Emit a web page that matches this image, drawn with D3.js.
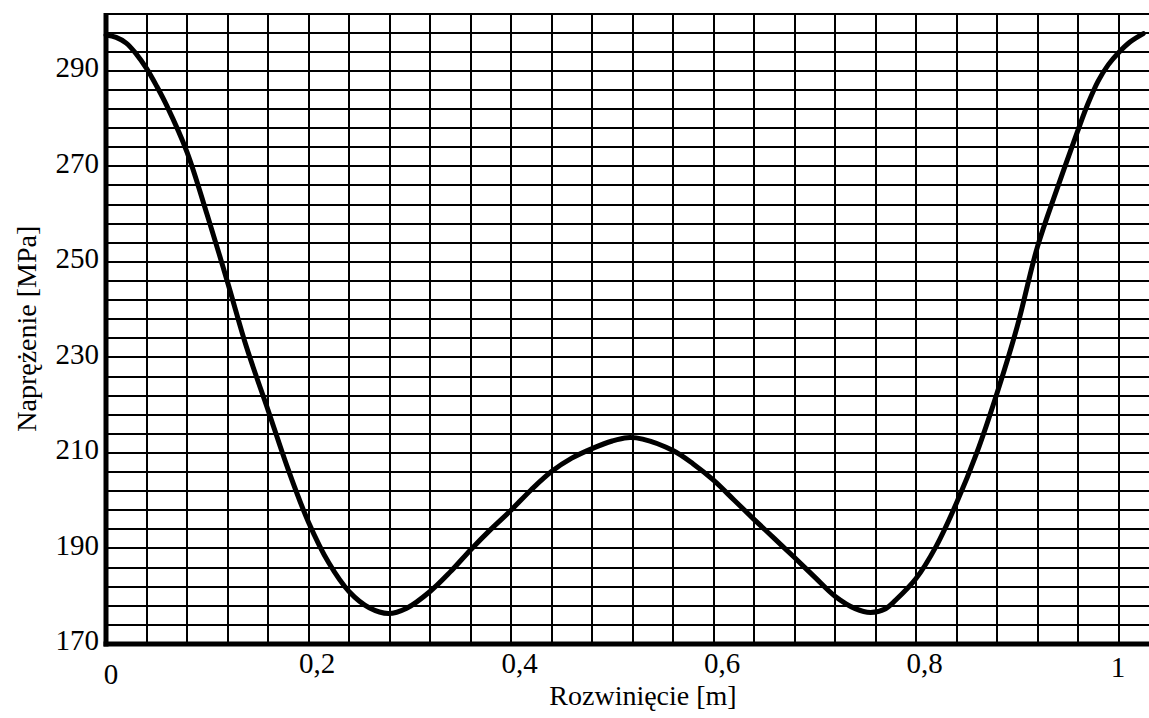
<!DOCTYPE html>
<html>
<head>
<meta charset="utf-8">
<script src="https://cdn.jsdelivr.net/npm/d3@7"></script>
<style>
  html, body { margin: 0; padding: 0; background: #fff; }
  svg { display: block; }
</style>
</head>
<body>
<svg id="chart" width="1149" height="718"></svg>
<script>
// ---- data ----
const xValues = [0, 0.01, 0.02, 0.03, 0.04, 0.05, 0.06, 0.08, 0.10, 0.12, 0.139, 0.16, 0.18, 0.20, 0.22, 0.24,
  0.26, 0.279, 0.297, 0.32, 0.34, 0.36, 0.38, 0.40, 0.42, 0.44, 0.46, 0.48, 0.50, 0.515, 0.53, 0.56, 0.58, 0.60,
  0.62, 0.64, 0.66, 0.68, 0.70, 0.72, 0.74, 0.755, 0.77, 0.78, 0.80, 0.82, 0.84, 0.86, 0.88, 0.90, 0.92, 0.94,
  0.96, 0.97, 0.98, 0.99, 1.0, 1.011, 1.0245];
const stressValues = [297.5, 297.0, 295.8, 293.5, 290.5, 286.8, 282.7, 273, 259.8, 245.8, 232, 219, 206.5, 195.5, 187, 181,
  177.6, 176.4, 177.5, 181, 185.1, 189.7, 194, 198, 202.3, 206.1, 208.9, 210.9, 212.5, 213.2, 212.9, 210.5, 207.7, 204.3,
  200.2, 196.1, 192.1, 188.1, 184, 180, 177.4, 176.6, 177.4, 179.2, 183.7, 190.5, 199.5, 210, 222.5, 236.5, 253.2, 265.7,
  277.6, 283.2, 287.9, 291.3, 293.8, 296, 297.8];
const xTickValues = [0, 0.2, 0.4, 0.6, 0.8, 1];
const xTickLabels = ["0", "0,2", "0,4", "0,6", "0,8", "1"];
const yTickValues = [170, 190, 210, 230, 250, 270, 290];
const xTitle = "Rozwinięcie [m]";
const yTitle = "Naprężenie [MPa]";

// ---- layout ----
const FONT = "'Liberation Serif', 'Times New Roman', Tinos, 'DejaVu Serif', 'Noto Serif', serif";
const svg = d3.select("#chart").attr("font-family", FONT);
const W = 1149, H = 718;
const plotLeft = 106, plotTop = 13.5, plotBottom = 644;
const x = d3.scaleLinear().domain([0, 1]).range([plotLeft, 1118.5]);
const xMax = x.invert(W);
const y = d3.scaleLinear().domain([170, 302]).range([plotBottom, plotTop]);

svg.append("rect").attr("width", W).attr("height", H).attr("fill", "#fff");

// grid (snapped to whole pixels so every line has the same weight)
const grid = svg.append("g").attr("stroke", "#000").attr("stroke-width", 2);
grid.selectAll("line.v").data(d3.range(1, 26).map(i => i * 0.04)).join("line").attr("class", "v")
  .attr("x1", d => Math.round(x(d))).attr("x2", d => Math.round(x(d)))
  .attr("y1", Math.round(y(302))).attr("y2", y(170));
grid.selectAll("line.h").data(d3.range(174, 303, 4)).join("line").attr("class", "h")
  .attr("x1", x(0)).attr("x2", x(xMax))
  .attr("y1", d => Math.round(y(d))).attr("y2", d => Math.round(y(d)));

// thick axis lines
svg.append("line").attr("x1", x(0)).attr("x2", x(0)).attr("y1", Math.round(y(302)) - 1).attr("y2", y(170) + 2.5)
  .attr("stroke", "#000").attr("stroke-width", 5);
svg.append("line").attr("x1", x(0) - 2.5).attr("x2", W).attr("y1", y(170)).attr("y2", y(170))
  .attr("stroke", "#000").attr("stroke-width", 5);

// curve
const line = d3.line().x((d, i) => x(xValues[i])).y(d => y(d)).curve(d3.curveCatmullRom.alpha(0.5));
svg.append("path").datum(stressValues).attr("d", line)
  .attr("fill", "none").attr("stroke", "#000").attr("stroke-width", 5)
  .attr("stroke-linejoin", "round").attr("stroke-linecap", "round");

// y axis labels
const yAxis = svg.append("g").attr("transform", `translate(${plotLeft},0)`)
  .call(d3.axisLeft(y).tickValues(yTickValues).tickSize(0).tickPadding(7).tickFormat(d3.format("d")));
yAxis.attr("font-family", FONT).attr("font-size", 29);
yAxis.select(".domain").remove();
yAxis.selectAll("text").attr("dy", "0.2em").attr("fill", "#000");

// x axis labels
const xAxis = svg.append("g").attr("transform", `translate(0,${plotBottom})`)
  .call(d3.axisBottom(x).tickValues(xTickValues).tickSize(0).tickPadding(8)
    .tickFormat((d, i) => xTickLabels[i]));
xAxis.attr("font-family", FONT).attr("font-size", 29);
xAxis.select(".domain").remove();
xAxis.selectAll("text").attr("fill", "#000")
  .attr("dx", (d, i) => i === 0 ? 4.5 : (i === xTickValues.length - 1 ? -1 : 8))
  .attr("dy", (d, i) => i === 0 ? "1.09em" : (i === xTickValues.length - 1 ? "0.85em" : "0.71em"));

// titles
svg.append("text").attr("x", 643).attr("y", 705).attr("text-anchor", "middle")
  .attr("font-size", 28).attr("fill", "#000").text(xTitle);
svg.append("text").attr("transform", `translate(36,${(plotTop + plotBottom) / 2}) rotate(-90)`)
  .attr("text-anchor", "middle").attr("font-size", 28).attr("fill", "#000").text(yTitle);
</script>
</body>
</html>
